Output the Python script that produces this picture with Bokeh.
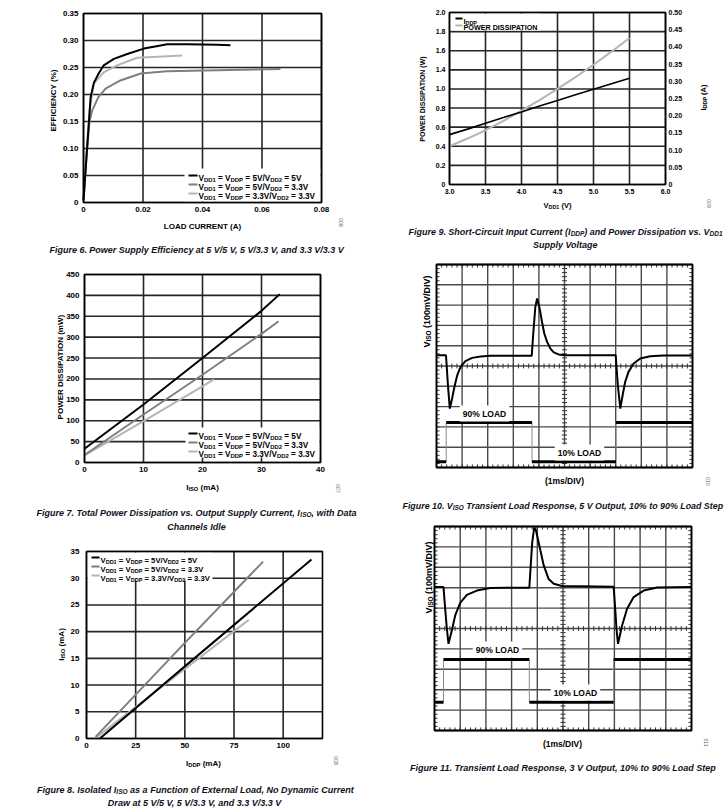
import numpy as np
from bokeh.plotting import figure
from bokeh.models import Range1d, Label
from bokeh.core.properties import value
from bokeh.layouts import row, column
from bokeh.embed import file_html
from bokeh.resources import INLINE

# ---------------------------------------------------------------- data
# Figure 6: efficiency vs load current
f6_x_ticks = [0, 0.02, 0.04, 0.06, 0.08]
f6_x_labels = ["0", "0.02", "0.04", "0.06", "0.08"]
f6_y_ticks = [0, 0.05, 0.10, 0.15, 0.20, 0.25, 0.30, 0.35]
f6_y_labels = ["0", "0.05", "0.10", "0.15", "0.20", "0.25", "0.30", "0.35"]
f6_a_x = [0, 0.0007, 0.0014, 0.0024, 0.0035, 0.0051, 0.0068, 0.0102, 0.0147, 0.0203, 0.0250, 0.0281, 0.035, 0.045, 0.0494]
f6_a_y = [0.004, 0.06, 0.115, 0.195, 0.222, 0.239, 0.254, 0.266, 0.275, 0.285, 0.290, 0.293, 0.293, 0.292, 0.291]
f6_b_x = [0, 0.001, 0.002, 0.0029, 0.0050, 0.0074, 0.0124, 0.0192, 0.028, 0.045, 0.0662]
f6_b_y = [0.004, 0.085, 0.150, 0.170, 0.195, 0.211, 0.226, 0.239, 0.243, 0.245, 0.247]
f6_c_x = [0, 0.001, 0.002, 0.0035, 0.0068, 0.0113, 0.018, 0.025, 0.0332]
f6_c_y = [0.004, 0.09, 0.17, 0.220, 0.241, 0.254, 0.268, 0.270, 0.272]

# Figure 7: power dissipation vs I_ISO
f7_x_ticks = [0, 10, 20, 30, 40]
f7_x_labels = ["0", "10", "20", "30", "40"]
f7_y_ticks = [0, 50, 100, 150, 200, 250, 300, 350, 400, 450]
f7_y_labels = ["0", "50", "100", "150", "200", "250", "300", "350", "400", "450"]
f7_a_x = [0, 10, 20, 30, 33.1]
f7_a_y = [33, 139, 250, 363, 403]
f7_b_x = [0, 10, 20, 30, 32.9]
f7_b_y = [18, 115, 210, 308, 338]
f7_c_x = [0, 10, 20, 21.9]
f7_c_y = [17, 99, 182, 199]

# Figure 8: I_ISO vs I_DDP
f8_x_ticks = [0, 25, 50, 75, 100]
f8_x_labels = ["0", "25", "50", "75", "100"]
f8_y_ticks = [0, 5, 10, 15, 20, 25, 30, 35]
f8_y_labels = ["0", "5", "10", "15", "20", "25", "30", "35"]
f8_a_x = [6.8, 50, 114.4]
f8_a_y = [0, 13.5, 33.5]
f8_b_x = [4.6, 50, 89.8]
f8_b_y = [0.3, 17.9, 33.1]
f8_c_x = [5.4, 50, 82.5]
f8_c_y = [0.3, 13.0, 22.2]

# Figure 9: I_DDP and power dissipation vs V_DD1
f9_x_ticks = [3.0, 3.5, 4.0, 4.5, 5.0, 5.5, 6.0]
f9_x_labels = ["3.0", "3.5", "4.0", "4.5", "5.0", "5.5", "6.0"]
f9_yl_ticks = [0, 0.2, 0.4, 0.6, 0.8, 1.0, 1.2, 1.4, 1.6, 1.8]
f9_yl_labels = ["0", "0.2", "0.4", "0.6", "0.8", "1.0", "1.4", "1.6", "1.8", "2.0"]
f9_yr_ticks = [0, 0.05, 0.10, 0.15, 0.20, 0.25, 0.30, 0.35, 0.40, 0.45, 0.50]
f9_yr_labels = ["0", "0.05", "0.10", "0.15", "0.20", "0.25", "0.30", "0.35", "0.40", "0.45", "0.50"]
f9_v = [3.0, 3.25, 3.5, 3.75, 4.0, 4.25, 4.5, 4.75, 5.0, 5.25, 5.5]
f9_iddp = [0.145, 0.161, 0.178, 0.195, 0.211, 0.228, 0.244, 0.261, 0.277, 0.293, 0.309]
f9_pd = [0.40, 0.481, 0.568, 0.667, 0.772, 0.883, 1.0, 1.123, 1.253, 1.39, 1.533]

# Figures 10/11: scope traces (in divisions)
div_ticks = list(range(11))
f10_t = [0, 0.37, 0.45, 0.52, 0.61, 0.70, 0.81, 0.94, 1.13, 1.39, 1.72, 2.11, 3.72, 3.78, 3.86, 3.93, 4.03, 4.12,
         4.21, 4.32, 4.45, 4.58, 4.77, 5.03, 7.00, 7.08, 7.18, 7.27, 7.37, 7.50, 7.70, 7.96, 8.35, 8.87, 10.0]
f10_v = [5.53, 5.53, 4.00, 2.90, 3.40, 3.97, 4.55, 4.96, 5.24, 5.40, 5.47, 5.50, 5.50, 6.6, 7.9, 8.33, 7.83, 7.18,
         6.60, 6.19, 5.86, 5.67, 5.57, 5.53, 5.53, 4.1, 2.90, 3.56, 4.22, 4.71, 5.12, 5.37, 5.48, 5.52, 5.52]
f10_switch = [0.38, 3.73, 7.01]
f10_levels = [0.28, 2.22, 0.28, 2.22]
f11_t = [0, 0.35, 0.42, 0.48, 0.545, 0.675, 0.805, 1.0, 1.26, 1.65, 2.17, 2.82, 3.69, 3.74, 3.80, 3.88, 3.95, 4.05,
         4.25, 4.44, 4.64, 4.96, 6.97, 7.03, 7.08, 7.14, 7.30, 7.49, 7.75, 8.14, 8.66, 10.0]
f11_v = [7.03, 7.03, 5.9, 5.0, 4.25, 4.90, 5.64, 6.26, 6.65, 6.86, 6.98, 7.0, 7.0, 8.0, 9.2, 9.95, 9.8, 9.23,
         8.09, 7.43, 7.19, 7.08, 7.05, 6.0, 5.0, 4.25, 5.15, 5.96, 6.54, 6.86, 7.01, 7.03]
f11_switch = [0.35, 3.69, 6.97]
f11_levels = [1.39, 3.48, 1.39, 3.48]

series_labels = [
    [("V", 0), ("DD1", 1), (" = V", 0), ("DDP", 1), (" = 5V/V", 0), ("DD2", 1), (" = 5V", 0)],
    [("V", 0), ("DD1", 1), (" = V", 0), ("DDP", 1), (" = 5V/V", 0), ("DD2", 1), (" = 3.3V", 0)],
    [("V", 0), ("DD1", 1), (" = V", 0), ("DDP", 1), (" = 3.3V/V", 0), ("DD2", 1), (" = 3.3V", 0)],
]

# ---------------------------------------------------------------- style
FONT = "'Liberation Sans', Arial, Helvetica, sans-serif"
INK = "#000000"
CAP_INK = "#10101c"
C_BLACK = "#000000"
C_MID = "#7f7f7f"
C_LIGHT = "#b5b5b5"
SERIES_COLORS = [C_BLACK, C_MID, C_LIGHT]
GRID = "#262626"
SCOPE_GRID = "#4a4a4a"
TICK = "#333333"

CW = {}
def _set(chars, w):
    for ch in chars:
        CW[ch] = w
_set(" ,./Iijl", 278)
_set("()-:;ft", 333)
_set("r", 389)
_set("z", 500)
_set("0123456789acekvsxyJ", 556)
_set("=", 584)
_set("bdghnopquFLTZ", 611)
_set("EPSVXY", 667)
_set("ABCDHKNRU", 722)
_set("GOQw", 778)
_set("M", 833)
_set("%m", 889)
_set("W", 944)

SUB = 0.72


def tw(s, size):
    return sum(CW.get(c, 556) for c in s) / 1000.0 * size


def parts_width(parts, size):
    return sum(tw(t, size * SUB if s else size) for t, s in parts)


class Chart:
    """One figure whose frame fills it; page-pixel coordinates on the default
    ranges, chart data on the extra range 'd' (and 'd2')."""

    def __init__(self, ox, oy, w, h, L, T, R, B, xr, yr, yr2=None):
        p = figure(width=w, height=h, x_range=Range1d(ox, ox + w), y_range=Range1d(oy + h, oy),
                   output_backend="svg", toolbar_location=None, x_axis_location=None, y_axis_location=None,
                   min_border=0)
        p.min_border_left = p.min_border_right = p.min_border_top = p.min_border_bottom = 0
        p.outline_line_color = None
        p.grid.visible = False
        p.background_fill_color = "white"
        p.border_fill_color = "white"
        kx = (xr[1] - xr[0]) / (R - L)
        p.extra_x_ranges = {"d": Range1d(xr[0] - (L - ox) * kx, xr[1] + (ox + w - R) * kx)}
        ky = (yr[1] - yr[0]) / (B - T)
        yranges = {"d": Range1d(yr[0] - (oy + h - B) * ky, yr[1] + (T - oy) * ky)}
        if yr2 is not None:
            ky2 = (yr2[1] - yr2[0]) / (B - T)
            yranges["d2"] = Range1d(yr2[0] - (oy + h - B) * ky2, yr2[1] + (T - oy) * ky2)
        p.extra_y_ranges = yranges
        self.p, self.xr, self.yr, self.yr2 = p, xr, yr, yr2
        self.kw = dict(x_range_name="d", y_range_name="d")

    # ---- data-space helpers
    def grid(self, xt, yt, color=GRID, width=1.6):
        x0, x1 = self.xr
        y0, y1 = self.yr
        self.p.segment(x0=xt, x1=xt, y0=[y0] * len(xt), y1=[y1] * len(xt), line_color=color,
                       line_width=width, **self.kw)
        self.p.segment(x0=[x0] * len(yt), x1=[x1] * len(yt), y0=yt, y1=yt, line_color=color,
                       line_width=width, **self.kw)

    def frame(self, width=1.6):
        self.p.quad(left=[self.xr[0]], right=[self.xr[1]], bottom=[self.yr[0]], top=[self.yr[1]],
                    fill_color=None, line_color="black", line_width=width, **self.kw)

    def xticks(self, ticks, labels, size, standoff):
        self.p.text(x=ticks, y=[self.yr[0]] * len(ticks), text=labels, y_offset=standoff,
                    text_align="center", text_baseline="top", text_font=value(FONT),
                    text_font_size=f"{size}px", text_font_style="bold", text_color=INK, **self.kw)

    def yticks(self, ticks, labels, size, standoff, side="left", rname="d"):
        x = self.xr[0] if side == "left" else self.xr[1]
        self.p.text(x=[x] * len(ticks), y=ticks, text=labels,
                    x_offset=-standoff if side == "left" else standoff,
                    text_align="right" if side == "left" else "left", text_baseline="middle",
                    text_font=value(FONT), text_font_size=f"{size}px", text_font_style="bold",
                    text_color=INK, x_range_name="d", y_range_name=rname)

    def line(self, xs, ys, color, width=2, rname="d"):
        self.p.line(xs, ys, line_color=color, line_width=width, x_range_name="d", y_range_name=rname)

    # ---- page-pixel helpers
    def box(self, x0, y0, x1, y1, color="white"):
        self.p.quad(left=[x0], right=[x1], top=[y0], bottom=[y1], fill_color=color, line_color=None)

    def rich(self, cx, cy, parts, size, align="center", vertical=False, color=INK, style="bold"):
        sizes = [size * SUB if s else size for _, s in parts]
        widths = [tw(t, sz) for (t, _), sz in zip(parts, sizes)]
        total = sum(widths)
        off = {"center": -total / 2, "left": 0.0, "right": -total}[align]
        for (t, s), sz, w in zip(parts, sizes, widths):
            lead = len(t) - len(t.lstrip(" "))
            o = off + tw(" " * lead, sz)
            shift = 0.24 * size if s else 0.0
            if not vertical:
                sx, sy, ang = cx + o, cy + 0.35 * size + shift, 0.0
            else:
                sx, sy, ang = cx + 0.35 * size + shift, cy - o, np.pi / 2
            self.p.add_layout(Label(x=sx, y=sy, text=t.strip(" "), text_font=FONT,
                                    text_font_size=f"{sz:.2f}px", text_font_style=style, text_color=color,
                                    text_align="left", text_baseline="alphabetic", angle=ang))
            off += w

    def tag(self, cx, cy, text, size=8.5, bg=None, font_style="bold", angle=0.0, color=INK):
        self.p.add_layout(Label(x=cx, y=cy, text=text, text_font=FONT, text_font_size=f"{size}px",
                                text_font_style=font_style, text_color=color, text_align="center",
                                text_baseline="middle", angle=angle, background_fill_color=bg,
                                padding=3 if bg else 0))

    def code(self, cx, cy, text):
        self.tag(cx, cy, text, size=5, font_style="normal", angle=-np.pi / 2, color="#555555")

    def legend(self, x_line0, x_line1, x_text, rows_y, labels, size):
        for y, c, parts in zip(rows_y, SERIES_COLORS, labels):
            self.box(x_line0, y - 1, x_line1, y + 1, c)
            self.rich(x_text, y, parts, size, align="left")

    def caption(self, lines, target):
        size = min(11.0, target / parts_width(lines[0][2], 1.0))
        for cx, cy, parts, align in lines:
            self.rich(cx, cy, parts, size, align=align, style="bold italic", color=CAP_INK)


# ---------------------------------------------------------------- Figure 6
c6 = Chart(0, 0, 378, 258, 83, 13, 321, 202, (0, 0.08), (0, 0.35))
c6.grid(f6_x_ticks, f6_y_ticks)
for xs, ys, c in [(f6_c_x, f6_c_y, C_LIGHT), (f6_b_x, f6_b_y, C_MID), (f6_a_x, f6_a_y, C_BLACK)]:
    c6.line(xs, ys, c)
c6.box(184, 168, 320, 201)
c6.frame()
c6.xticks(f6_x_ticks, f6_x_labels, 8, 4)
c6.yticks(f6_y_ticks, f6_y_labels, 8, 5)
c6.legend(188, 197, 198, [175, 184, 193], series_labels, 8.2)
c6.rich(202, 223, [("LOAD CURRENT (A)", 0)], 8)
c6.rich(50, 100, [("EFFICIENCY (%)", 0)], 8, vertical=True)
c6.code(340, 222, "006")
c6.caption([(197, 246, [("Figure 6. Power Supply Efficiency at 5 V/5 V, 5 V/3.3 V, and 3.3 V/3.3 V", 0)], "center")],
           296)

# ---------------------------------------------------------------- Figure 7
c7 = Chart(0, 258, 378, 276, 84, 274, 320, 462, (0, 40), (0, 450))
c7.grid(f7_x_ticks, f7_y_ticks)
for xs, ys, c in [(f7_c_x, f7_c_y, C_LIGHT), (f7_b_x, f7_b_y, C_MID), (f7_a_x, f7_a_y, C_BLACK)]:
    c7.line(xs, ys, c)
c7.box(185, 427, 319, 457)
c7.frame()
c7.xticks(f7_x_ticks, f7_x_labels, 8, 4)
c7.yticks(f7_y_ticks, f7_y_labels, 8, 5)
c7.legend(188, 197, 198, [433, 442, 451], series_labels, 8.2)
c7.rich(202, 484, [("I", 0), ("ISO", 1), (" (mA)", 0)], 8)
c7.rich(57, 366, [("POWER DISSIPATION (mW)", 0)], 8, vertical=True)
c7.code(337, 488, "007")
c7.caption([(196, 509, [("Figure 7. Total Power Dissipation vs. Output Supply Current, I", 0), ("ISO", 1),
                        (", with Data", 0)], "center"),
            (196, 523, [("Channels Idle", 0)], "center")], 320)

# ---------------------------------------------------------------- Figure 8
c8 = Chart(0, 534, 378, 276, 86, 551, 322, 738, (0, 120), (0, 35))
c8.grid(f8_x_ticks, f8_y_ticks)
for xs, ys, c in [(f8_c_x, f8_c_y, C_LIGHT), (f8_b_x, f8_b_y, C_MID), (f8_a_x, f8_a_y, C_BLACK)]:
    c8.line(xs, ys, c)
c8.box(87, 552, 212, 580)
c8.frame()
c8.xticks(f8_x_ticks, f8_x_labels, 8, 4)
c8.yticks(f8_y_ticks, f8_y_labels, 8, 7)
c8.legend(91, 99, 100, [557, 566, 575], series_labels, 7.7)
c8.rich(203, 760, [("I", 0), ("DDP", 1), (" (mA)", 0)], 8)
c8.rich(58, 644, [("I", 0), ("ISO", 1), (" (mA)", 0)], 8, vertical=True)
c8.code(335, 760, "008")
c8.caption([(195, 786, [("Figure 8. Isolated I", 0), ("ISO", 1),
                        (" as a Function of External Load, No Dynamic Current", 0)], "center"),
            (195, 799, [("Draw at 5 V/5 V, 5 V/3.3 V, and 3.3 V/3.3 V", 0)], "center")], 317)

# ---------------------------------------------------------------- Figure 9
c9 = Chart(378, 0, 347, 250, 449, 12, 665, 184, (3.0, 6.0), (0, 1.8), yr2=(0, 0.5))
c9.grid(f9_x_ticks, f9_yl_ticks)
c9.line(f9_v, f9_pd, C_LIGHT, 2)
c9.line(f9_v, f9_iddp, C_BLACK, 1.6, rname="d2")
c9.box(450, 13, 540, 30)
c9.frame()
c9.xticks(f9_x_ticks, f9_x_labels, 7, 4)
c9.yticks(f9_yl_ticks, f9_yl_labels, 7, 4)
c9.yticks(f9_yr_ticks, f9_yr_labels, 7, 3, side="right", rname="d2")
c9.box(455, 17, 462, 19, C_BLACK)
c9.rich(463, 18, [("I", 0), ("DDP", 1)], 7.5, align="left")
c9.box(455, 24, 462, 26, C_LIGHT)
c9.rich(463, 24.5, [("POWER DISSIPATION", 0)], 7.2, align="left")
c9.rich(557, 202, [("V", 0), ("DD1", 1), (" (V)", 0)], 7.5)
c9.rich(420, 98, [("POWER DISSIPATION (W)", 0)], 7, vertical=True)
c9.rich(700, 97, [("I", 0), ("DDP", 1), (" (A)", 0)], 7.5, vertical=True)
c9.code(708, 203, "009")
c9.caption([(565, 228, [("Figure 9. Short-Circuit Input Current (I", 0), ("DDP", 1),
                        (") and Power Dissipation vs. V", 0), ("DD1", 1)], "center"),
            (565, 241, [("Supply Voltage", 0)], "center")], 314)


# ---------------------------------------------------------------- scope figures
def scope(ox, oy, w, h, L, T, R, B):
    c = Chart(ox, oy, w, h, L, T, R, B, (0, 10), (0, 10))
    c.grid(div_ticks, div_ticks, SCOPE_GRID, 1.4)
    m = [round(v, 1) for v in np.arange(0, 10.001, 0.2)]
    n = len(m)
    seg = dict(line_color=TICK, line_width=1, **c.kw)
    # minor ticks along the frame edges
    c.p.segment(x0=m, x1=m, y0=[0] * n, y1=[0.15] * n, **seg)
    c.p.segment(x0=m, x1=m, y0=[10] * n, y1=[9.85] * n, **seg)
    c.p.segment(x0=[0] * n, x1=[0.12] * n, y0=m, y1=m, **seg)
    c.p.segment(x0=[10] * n, x1=[9.88] * n, y0=m, y1=m, **seg)
    # minor ticks along the centre lines
    c.p.segment(x0=m, x1=m, y0=[4.88] * n, y1=[5.12] * n, **seg)
    c.p.segment(x0=[4.9] * n, x1=[5.1] * n, y0=m, y1=m, **seg)
    return c


def step_trace(c, switch, levels):
    starts = [0.0] + list(switch)
    ends = list(switch) + [10.0]
    c.p.segment(x0=switch, x1=switch, y0=levels[:-1], y1=levels[1:], line_color="#8a8a8a", line_width=1, **c.kw)
    c.p.segment(x0=starts, x1=ends, y0=levels, y1=levels, line_color="#000000", line_width=3, **c.kw)


c10 = scope(378, 250, 347, 262, 436, 264, 692, 467)
step_trace(c10, f10_switch, f10_levels)
c10.line(f10_t, f10_v, "#000000", 2)
c10.frame(1.8)
c10.tag(484, 413, "90% LOAD", bg="white")
c10.tag(579, 452, "10% LOAD", bg="white")
c10.rich(564, 478, [("(1ms/DIV)", 0)], 8.5)
c10.rich(423, 311, [("V", 0), ("ISO", 1), (" (100mV/DIV)", 0)], 9, vertical=True)
c10.code(707, 481, "010")
c10.caption([(402, 502, [("Figure 10. V", 0), ("ISO", 1),
                         (" Transient Load Response, 5 V Output, 10% to 90% Load Step", 0)], "left")], 321)

c11 = scope(378, 512, 347, 298, 434, 526, 691, 730)
step_trace(c11, f11_switch, f11_levels)
c11.line(f11_t, f11_v, "#000000", 2)
c11.frame(1.8)
c11.tag(497, 649, "90% LOAD", bg="white")
c11.tag(575, 692, "10% LOAD", bg="white")
c11.rich(562, 741, [("(1ms/DIV)", 0)], 8.5)
c11.rich(425, 577, [("V", 0), ("ISO", 1), (" (100mV/DIV)", 0)], 9, vertical=True)
c11.code(705, 742, "011")
c11.caption([(563, 764, [("Figure 11. Transient Load Response, 3 V Output, 10% to 90% Load Step", 0)], "center")],
            307)

layout = row(column(c6.p, c7.p, c8.p, spacing=0), column(c9.p, c10.p, c11.p, spacing=0), spacing=0)
open("out.html", "w").write(file_html(layout, INLINE))
